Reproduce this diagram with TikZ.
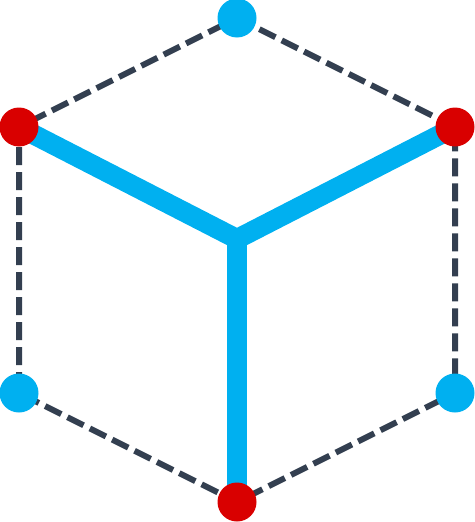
\documentclass[tikz,border=0pt]{standalone}
\definecolor{edgec}{HTML}{333F50}
\definecolor{bluec}{HTML}{00B0F0}
\definecolor{redc}{HTML}{D90000}
\begin{document}
\begin{tikzpicture}[x=1pt,y=-1pt,
  hexedge/.style={draw=edgec,line width=6pt,dash pattern=on 18pt off 7pt},
  armline/.style={draw=bluec,line width=20pt},
  bdot/.style={circle,fill=bluec,minimum size=39pt,inner sep=0pt},
  rdot/.style={circle,fill=redc,minimum size=39pt,inner sep=0pt}]
\useasboundingbox (0,0) rectangle (474,522);
\coordinate (t) at (237,18);
\coordinate (ul) at (19,127);
\coordinate (ur) at (455,127);
\coordinate (ll) at (19,393);
\coordinate (lr) at (455,393);
\coordinate (b) at (237,502);
\coordinate (c) at (237,239);
\draw[hexedge] (t) -- (ur) -- (lr) -- (b) -- (ll) -- (ul) -- cycle;
\draw[armline,line join=miter] (ul) -- (c) -- (ur);
\draw[armline] (c) -- (b);
\node[bdot] (nt) at (t) {};
\node[bdot] (nll) at (ll) {};
\node[bdot] (nlr) at (lr) {};
\node[rdot] (nul) at (ul) {};
\node[rdot] (nur) at (ur) {};
\node[rdot] (nb) at (b) {};
\end{tikzpicture}
\end{document}
